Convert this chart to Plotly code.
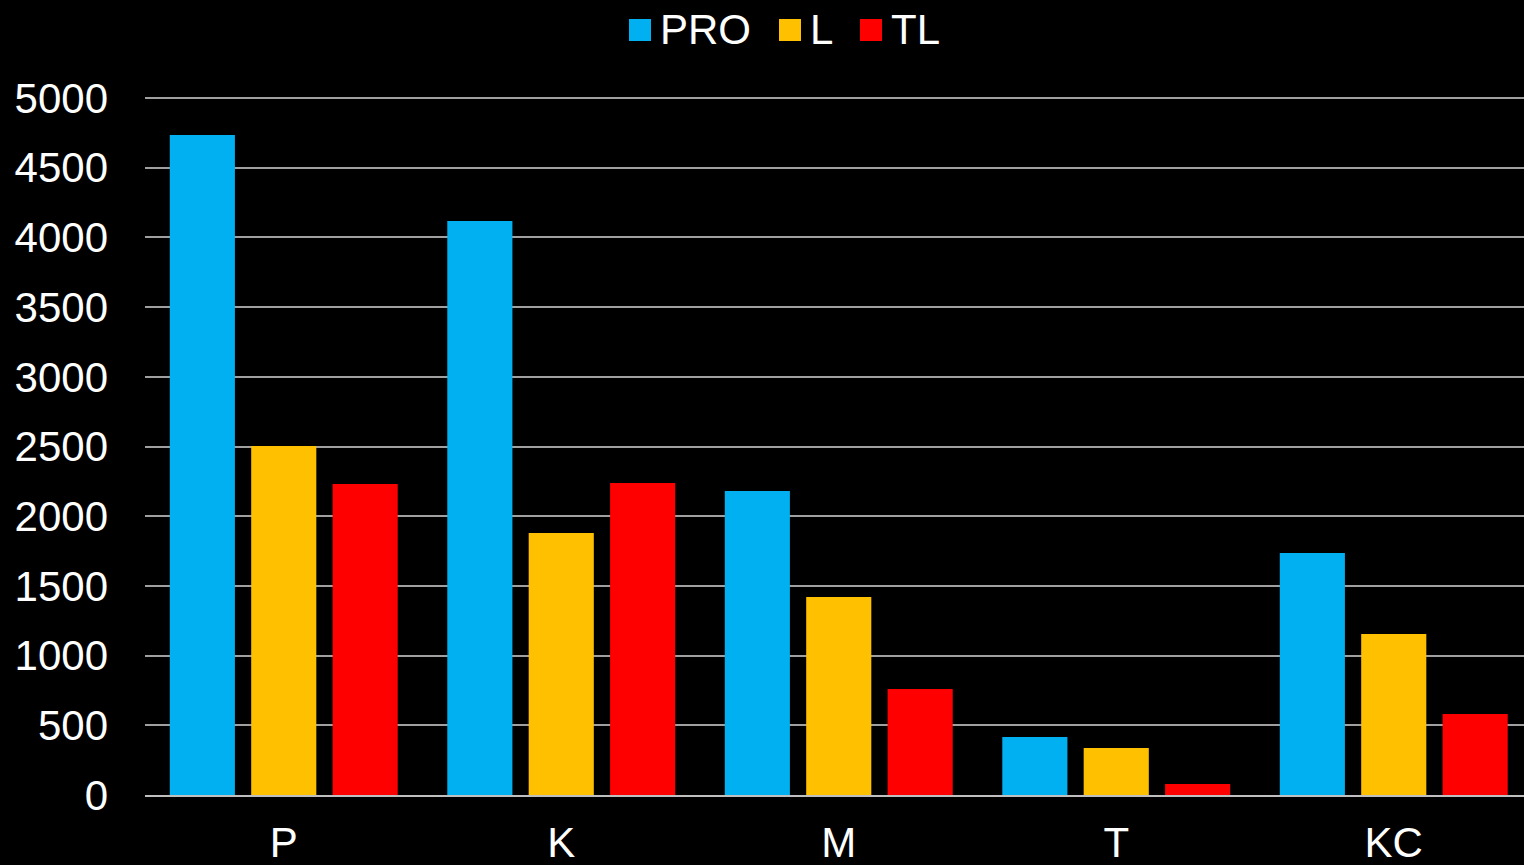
import plotly.graph_objects as go

categories = ["P", "K", "M", "T", "KC"]
series_names = ["PRO", "L", "TL"]
pro_values = [4735, 4118, 2181, 416, 1736]
l_values = [2503, 1880, 1420, 337, 1155]
tl_values = [2231, 2238, 760, 79, 581]
colors = ["#00B0F0", "#FFC000", "#FF0000"]
y_ticks = [0, 500, 1000, 1500, 2000, 2500, 3000, 3500, 4000, 4500, 5000]

W, H = 1524, 865
ML, MR, MT, MB = 145, 0, 94, 70
PW, PH = W - ML - MR, H - MT - MB
Y_TOP_PX = 98  # pixel row where 5000 sits
y_max = 5000 * PH / (H - MB - Y_TOP_PX)
CAT_PX = 277.5  # pixel width of one category band
x_max = -0.5 + PW / CAT_PX
FS = 42

fig = go.Figure()
for name, vals, col in zip(series_names, [pro_values, l_values, tl_values], colors):
    fig.add_trace(go.Bar(x=categories, y=vals, name=name, marker=dict(color=col, line=dict(width=0)),
                         showlegend=False))

# custom legend (large square swatches like the original)
def px_x(p):
    return (p - ML) / PW

def px_y(p):
    return (H - MB - p) / PH

legend_x = [629, 779, 860]
sq = 22
sq_top = 19
for name, col, lx in zip(series_names, colors, legend_x):
    fig.add_shape(type="rect", xref="paper", yref="paper",
                  x0=px_x(lx), x1=px_x(lx + sq), y0=px_y(sq_top + sq), y1=px_y(sq_top),
                  fillcolor=col, line=dict(width=0))
    fig.add_annotation(xref="paper", yref="paper", x=px_x(lx + sq + 7), y=px_y(sq_top + sq / 2),
                       xanchor="left", yanchor="middle", text=name, showarrow=False,
                       font=dict(size=FS, color="white"))

fig.update_layout(
    width=W, height=H,
    margin=dict(l=ML, r=MR, t=MT, b=MB, autoexpand=False),
    paper_bgcolor="black", plot_bgcolor="black",
    font=dict(family="Liberation Sans, Arial, sans-serif", size=FS, color="white"),
    barmode="group", bargap=0.12, bargroupgap=0.2,
    showlegend=False,
)
fig.update_xaxes(range=[-0.5, x_max], showgrid=False, showline=True, linecolor="#bfbfbf", linewidth=2,
                 automargin=False, ticks="", ticklabelstandoff=10, tickfont=dict(size=FS, color="white"))
fig.update_yaxes(range=[0, y_max], tickvals=y_ticks, showgrid=True, gridcolor="#a0a0a0", gridwidth=2,
                 zeroline=False, showline=False, ticks="", ticklabelstandoff=36, automargin=False,
                 tickfont=dict(size=FS, color="white"))

fig.write_html("out.html",
               config={"displayModeBar": False},
               post_script="document.body.style.margin='0';document.body.style.background='black';"
                           "document.body.style.overflow='hidden';")
